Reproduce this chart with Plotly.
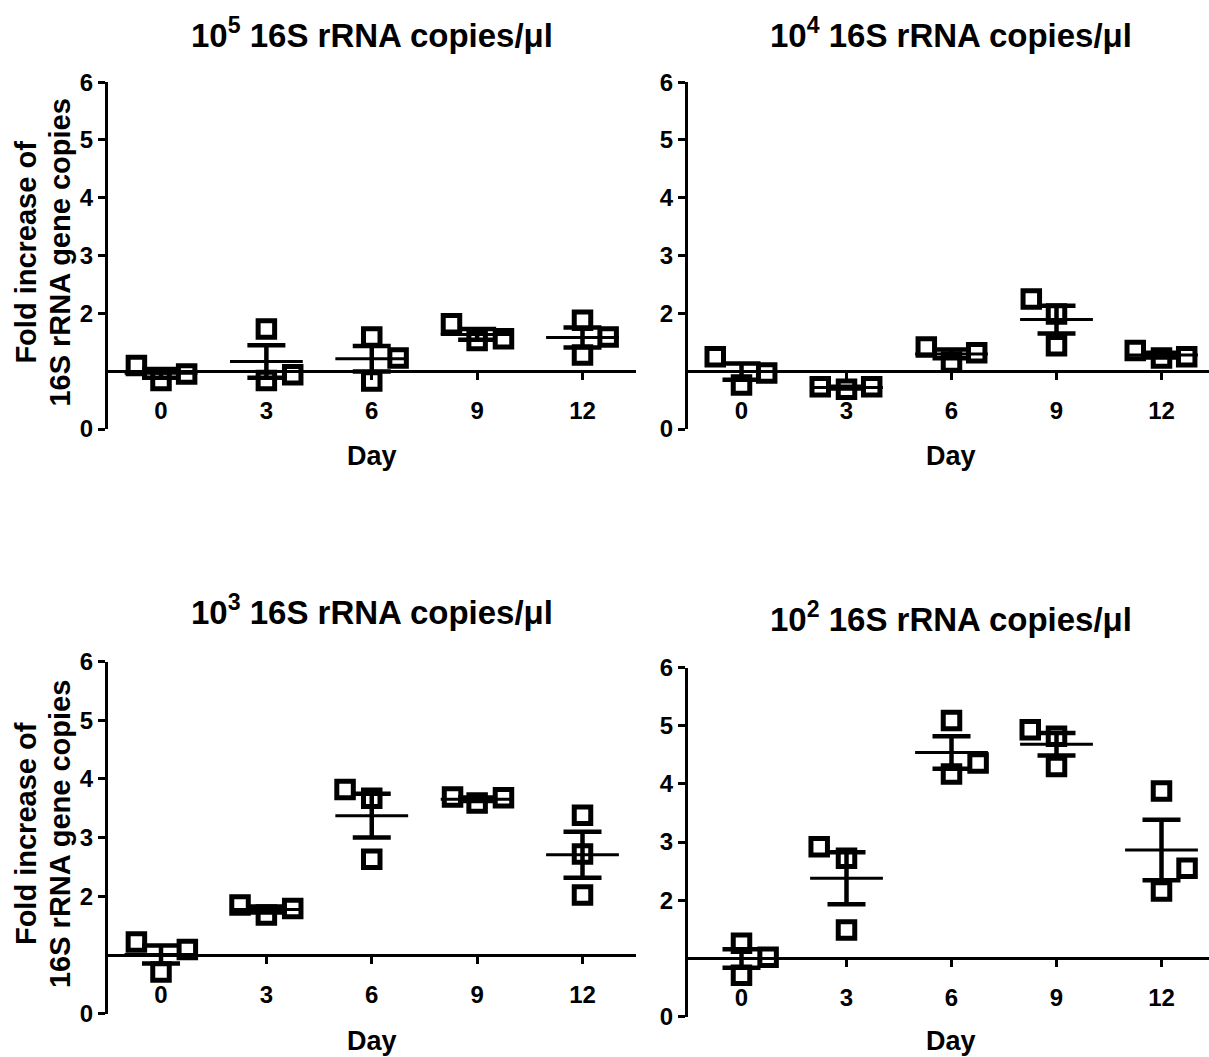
import numpy as np
import plotly.graph_objects as go

# ---------------- data ----------------
days = [0, 3, 6, 9, 12]
y_tick_values = [0, 2, 3, 4, 5, 6]
y_tick_labels = ["0", "2", "3", "4", "5", "6"]

panel_titles = [
    "10<sup>5</sup> 16S rRNA copies/μl",
    "10<sup>4</sup> 16S rRNA copies/μl",
    "10<sup>3</sup> 16S rRNA copies/μl",
    "10<sup>2</sup> 16S rRNA copies/μl",
]
y_title_lines = ["Fold increase of", "16S rRNA gene copies"]
x_title = "Day"

# replicate fold-increase values (3 per day)
p1_values = [[1.10, 0.84, 0.95], [1.73, 0.84, 0.94], [1.59, 1.23, 0.83], [1.82, 1.53, 1.56], [1.88, 1.59, 1.28]]
p2_values = [[1.25, 0.76, 0.97], [0.73, 0.69, 0.73], [1.42, 1.16, 1.32], [2.25, 1.99, 1.44], [1.36, 1.23, 1.25]]
p3_values = [[1.22, 0.71, 1.09], [1.85, 1.68, 1.79], [3.82, 3.67, 2.63], [3.69, 3.59, 3.68], [3.38, 2.72, 2.02]]
p4_values = [[1.26, 1.02, 0.71], [2.92, 2.72, 1.49], [5.09, 4.36, 4.17], [4.93, 4.82, 4.30], [3.88, 2.55, 2.16]]

# horizontal scatter spread of overlapping replicates (in day units)
p1_jitter = [[-0.7, 0, 0.73], [0, 0, 0.75], [0, 0.75, 0], [-0.73, 0, 0.75], [0, 0.73, 0]]
p2_jitter = [[-0.75, 0, 0.72], [-0.75, 0, 0.72], [-0.72, 0, 0.72], [-0.72, 0, 0], [-0.75, 0, 0.72]]
p3_jitter = [[-0.7, 0, 0.75], [-0.75, 0, 0.75], [-0.76, 0, 0], [-0.7, 0, 0.75], [0, 0, 0]]
p4_jitter = [[0, 0.76, 0], [-0.78, 0, 0], [0, 0.76, 0], [-0.75, 0, 0], [0, 0.73, 0]]

all_values = [p1_values, p2_values, p3_values, p4_values]
all_jitter = [p1_jitter, p2_jitter, p3_jitter, p4_jitter]

# ---------------- layout geometry (pixels) ----------------
W, H = 1209, 1057


def vy(t):
    # vertical placement correction for the capture
    return (t - 16.0) / 0.972


geom = [
    dict(left=108, right=636, d0=161, d12=582.5, y0=430, y6=84, title=(372, 35), day=(372, 457), ytitle=([26, 60], 254)),
    dict(left=688, right=1209, d0=741.5, d12=1161.5, y0=430, y6=84, title=(951, 35), day=(951, 457), ytitle=None),
    dict(left=108, right=636, d0=161, d12=582.5, y0=1013, y6=662, title=(372, 610), day=(372, 1040), ytitle=([26, 60], 834)),
    dict(left=688, right=1209, d0=741.5, d12=1161.5, y0=1016, y6=668, title=(951, 617), day=(951, 1040), ytitle=None),
]

FONT = "Liberation Sans, Arial, Helvetica, sans-serif"
fig = go.Figure()
layout = dict(
    width=W, height=H, margin=dict(l=0, r=0, t=0, b=0, pad=0),
    paper_bgcolor="white", plot_bgcolor="white", showlegend=False,
    font=dict(family=FONT, color="black"),
)
annotations = []

for i, (vals, jit, g) in enumerate(zip(all_values, all_jitter, geom)):
    n = i + 1
    xa = "x" if n == 1 else f"x{n}"
    ya = "y" if n == 1 else f"y{n}"
    ppd = (g["d12"] - g["d0"]) / 12.0
    xr = [(g["left"] - g["d0"]) / ppd, (g["right"] - g["d0"]) / ppd]
    ydom = [1 - vy(g["y0"]) / H, 1 - vy(g["y6"]) / H]
    xpos = ydom[0] + (ydom[1] - ydom[0]) / 6.0  # paper position of y = 1

    px, py = [], []
    for d, vv, jj in zip(days, vals, jit):
        for v, j in zip(vv, jj):
            px.append(d + j)
            py.append(v)
    fig.add_trace(go.Scatter(
        x=px, y=py, mode="markers", xaxis=xa, yaxis=ya, cliponaxis=False,
        marker=dict(symbol="square-open", size=16.5, color="black",
                    line=dict(width=5, color="black")),
    ))

    arr = np.array(vals)
    means = arr.mean(axis=1)
    sems = arr.std(axis=1, ddof=1) / np.sqrt(arr.shape[1])
    fig.add_trace(go.Scatter(
        x=days, y=means, mode="markers", xaxis=xa, yaxis=ya, cliponaxis=False,
        marker=dict(symbol="line-ew", size=52, color="black",
                    line=dict(width=3, color="black")),
        error_y=dict(type="data", array=sems, symmetric=True, color="black",
                     thickness=4.5, width=19),
    ))

    key_x = "xaxis" if n == 1 else f"xaxis{n}"
    key_y = "yaxis" if n == 1 else f"yaxis{n}"
    layout[key_x] = dict(
        domain=[g["left"] / W, g["right"] / W], range=xr, anchor="free", position=xpos,
        showline=True, linewidth=3, linecolor="black", showgrid=False, zeroline=False,
        tickmode="array", tickvals=days, ticktext=[str(d) for d in days],
        ticks="outside", ticklen=7, tickwidth=3, tickcolor="black",
        tickfont=dict(family=FONT, size=24, color="black", weight="bold"),
        ticklabelstandoff=10, fixedrange=True,
    )
    layout[key_y] = dict(
        domain=ydom, range=[0, 6], anchor=xa,
        showline=True, linewidth=3, linecolor="black", showgrid=False, zeroline=False,
        tickmode="array", tickvals=y_tick_values, ticktext=y_tick_labels,
        ticks="outside", ticklen=7, tickwidth=3, tickcolor="black",
        tickfont=dict(family=FONT, size=24, color="black", weight="bold"),
        fixedrange=True,
    )

    annotations.append(dict(
        text=panel_titles[i], x=g["title"][0] / W, y=1 - vy(g["title"][1]) / H,
        xref="paper", yref="paper", xanchor="center", yanchor="middle", showarrow=False,
        font=dict(family=FONT, size=33, color="black", weight="bold"),
    ))
    annotations.append(dict(
        text=x_title, x=g["day"][0] / W, y=1 - vy(g["day"][1]) / H,
        xref="paper", yref="paper", xanchor="center", yanchor="middle", showarrow=False,
        font=dict(family=FONT, size=27, color="black", weight="bold"),
    ))
    if g["ytitle"] is not None:
        xs, yc = g["ytitle"]
        for line_text, xc in zip(y_title_lines, xs):
            annotations.append(dict(
                text=line_text, x=xc / W, y=1 - vy(yc) / H,
                xref="paper", yref="paper", xanchor="center", yanchor="middle", showarrow=False,
                textangle=-90,
                font=dict(family=FONT, size=29, color="black", weight="bold"),
            ))

layout["annotations"] = annotations
fig.update_layout(**layout)
fig.write_html(
    "out.html",
    config={"displayModeBar": False},
    post_script="document.body.style.margin='0px';document.body.style.overflow='hidden';",
)
